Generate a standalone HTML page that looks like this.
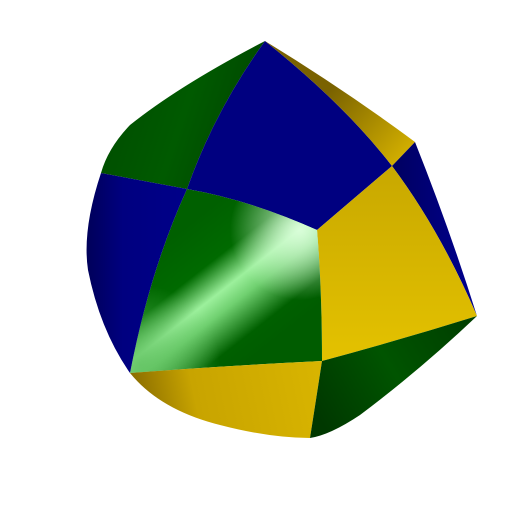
<!DOCTYPE html>
<html><head><meta charset="utf-8"><style>html,body{margin:0;padding:0;background:#fff;width:512px;height:512px;overflow:hidden}</style></head>
<body>
<svg width="512" height="512" viewBox="0 0 512 512">
<defs>
<linearGradient id="gTL" x1="0" y1="0" x2="1" y2="0.3"><stop offset="0" stop-color="#004a00"/><stop offset="0.6" stop-color="#005a00"/><stop offset="1" stop-color="#004800"/></linearGradient>
<linearGradient id="gC" x1="200" y1="215" x2="290" y2="330" gradientUnits="userSpaceOnUse"><stop offset="0" stop-color="#006000"/><stop offset="0.3" stop-color="#006a00"/><stop offset="0.5" stop-color="#9cf09c"/><stop offset="0.62" stop-color="#70d070"/><stop offset="0.85" stop-color="#006000"/><stop offset="1" stop-color="#005c00"/></linearGradient>
<radialGradient id="gCH" cx="300" cy="230" r="70" gradientUnits="userSpaceOnUse"><stop offset="0" stop-color="#e0ffe0" stop-opacity="0.9"/><stop offset="1" stop-color="#e0ffe0" stop-opacity="0"/></radialGradient>
<radialGradient id="gCL" cx="140" cy="365" r="80" gradientUnits="userSpaceOnUse"><stop offset="0" stop-color="#60c060" stop-opacity="0.8"/><stop offset="1" stop-color="#60c060" stop-opacity="0"/></radialGradient>
<linearGradient id="gY" x1="0" y1="0" x2="0" y2="1"><stop offset="0" stop-color="#c8a800"/><stop offset="1" stop-color="#e4c200"/></linearGradient>
<linearGradient id="gYB" x1="130" y1="420" x2="320" y2="380" gradientUnits="userSpaceOnUse"><stop offset="0" stop-color="#806400"/><stop offset="0.35" stop-color="#c8a400"/><stop offset="1" stop-color="#d8b400"/></linearGradient>
<linearGradient id="gYT" x1="330" y1="90" x2="410" y2="160" gradientUnits="userSpaceOnUse"><stop offset="0" stop-color="#7a6200"/><stop offset="1" stop-color="#d8b400"/></linearGradient>
<linearGradient id="gBR" x1="0" y1="0" x2="1" y2="0"><stop offset="0" stop-color="#000060"/><stop offset="1" stop-color="#000090"/></linearGradient>
<linearGradient id="gBL" x1="85" y1="0" x2="180" y2="0" gradientUnits="userSpaceOnUse"><stop offset="0" stop-color="#000058"/><stop offset="0.4" stop-color="#000080"/><stop offset="1" stop-color="#000088"/></linearGradient>
<linearGradient id="gGB" x1="320" y1="420" x2="470" y2="330" gradientUnits="userSpaceOnUse"><stop offset="0" stop-color="#003800"/><stop offset="0.5" stop-color="#005400"/><stop offset="1" stop-color="#004000"/></linearGradient>
<clipPath id="cC"><path d="M187,189 Q250,200 317,230 Q322,290 322,361 Q220,366 130,373 Q150,270 187,189 Z"/></clipPath>
</defs>
<path d="M265,41 Q180,85 130,125 Q108,148 101,173 L187,189 Q215,110 265,41 Z" fill="url(#gTL)"/>
<path d="M265,41 Q345,105 392,166 L317,230 Q250,200 187,189 Q215,110 265,41 Z" fill="#000080"/>
<path d="M265,41 Q345,90 415,142 L392,166 Q345,105 265,41 Z" fill="url(#gYT)"/>
<path d="M415,142 Q450,230 477,316 Q440,230 392,166 Z" fill="url(#gBR)"/>
<path d="M392,166 Q440,230 477,316 Q400,340 322,361 Q322,290 317,230 Z" fill="url(#gY)"/>
<g clip-path="url(#cC)">
<rect x="120" y="180" width="210" height="200" fill="url(#gC)"/>
<rect x="120" y="180" width="210" height="200" fill="url(#gCH)"/>
<rect x="120" y="180" width="210" height="200" fill="url(#gCL)"/>
</g>
<path d="M101,173 Q82,230 88,270 Q100,330 130,373 Q150,270 187,189 Z" fill="url(#gBL)"/>
<path d="M130,373 Q160,410 220,425 Q270,438 310,438 Q316,400 322,361 Q220,366 130,373 Z" fill="url(#gYB)"/>
<path d="M322,361 Q400,340 477,316 Q420,370 360,415 Q330,435 310,438 Q316,400 322,361 Z" fill="url(#gGB)"/>
</svg>
</body></html>
